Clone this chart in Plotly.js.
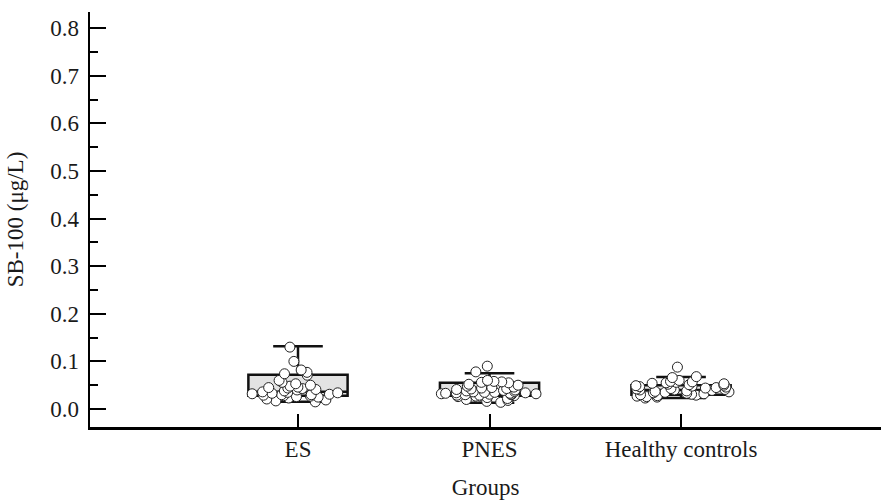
<!DOCTYPE html>
<html>
<head>
<meta charset="utf-8">
<script src="https://cdn.plot.ly/plotly-3.0.1.min.js"></script>
<style>html,body{margin:0;padding:0;background:#fff;}#chart{width:881px;height:500px;}</style>
</head>
<body>
<div id="chart"></div>
<script>
const categories = ['ES', 'PNES', 'Healthy controls'];

// Box statistics (µg/L)
const q1 = [0.028, 0.028, 0.030];
const median = [0.036, 0.033, 0.040];
const q3 = [0.072, 0.055, 0.050];
const lowerWhisker = [0.015, 0.013, 0.023];
const upperWhisker = [0.132, 0.075, 0.067];

// Individual observations
const esValues = [0.130, 0.100, 0.082, 0.077, 0.074, 0.071, 0.060, 0.056, 0.053, 0.050, 0.048, 0.046, 0.045, 0.044, 0.043, 0.041, 0.040, 0.038, 0.036, 0.035, 0.034, 0.033, 0.032, 0.031, 0.030, 0.030, 0.029, 0.028, 0.027, 0.026, 0.025, 0.023, 0.021, 0.019, 0.017, 0.015];
const pnesValues = [0.090, 0.078, 0.060, 0.058, 0.057, 0.056, 0.055, 0.052, 0.050, 0.048, 0.046, 0.045, 0.044, 0.043, 0.042, 0.041, 0.040, 0.039, 0.038, 0.037, 0.036, 0.035, 0.035, 0.034, 0.034, 0.033, 0.033, 0.032, 0.032, 0.031, 0.031, 0.030, 0.030, 0.029, 0.029, 0.028, 0.027, 0.026, 0.025, 0.024, 0.022, 0.020, 0.018, 0.016, 0.014];
const hcValues = [0.088, 0.068, 0.066, 0.060, 0.058, 0.057, 0.056, 0.055, 0.054, 0.053, 0.052, 0.051, 0.050, 0.049, 0.048, 0.047, 0.046, 0.045, 0.044, 0.043, 0.042, 0.041, 0.040, 0.040, 0.039, 0.038, 0.037, 0.036, 0.035, 0.034, 0.033, 0.032, 0.031, 0.030, 0.029, 0.028, 0.027, 0.026, 0.025, 0.023];

const yTickVals = [0, 0.1, 0.2, 0.3, 0.4, 0.5, 0.6, 0.7, 0.8];
const yTickText = ['0.0', '0.1', '0.2', '0.3', '0.4', '0.5', '0.6', '0.7', '0.8'];

const FONT = 'Liberation Serif, Times New Roman, serif';
const FS = 23;

const boxTrace = {
  type: 'box',
  x: categories,
  q1: q1,
  median: median,
  q3: q3,
  lowerfence: lowerWhisker,
  upperfence: upperWhisker,
  boxpoints: false,
  fillcolor: '#e3e3e3',
  line: {color: '#111', width: 2.5},
  whiskerwidth: 0.5,
  showlegend: false,
  hoverinfo: 'skip'
};

const groupValues = [esValues, pnesValues, hcValues];
const pointX = [];
const pointY = [];
groupValues.forEach((vals, i) => {
  vals.forEach(v => { pointX.push(categories[i]); pointY.push(v); });
});

const pointsTrace = {
  type: 'box',
  x: pointX,
  y: pointY,
  boxpoints: 'all',
  jitter: 1,
  pointpos: 0,
  fillcolor: 'rgba(0,0,0,0)',
  line: {color: 'rgba(0,0,0,0)', width: 0},
  marker: {color: '#ffffff', size: 10, line: {color: '#222', width: 1}},
  showlegend: false,
  hoverinfo: 'y'
};

const layout = {
  width: 881,
  height: 500,
  margin: {l: 90, r: 0, t: 12, b: 73},
  paper_bgcolor: '#ffffff',
  plot_bgcolor: '#ffffff',
  font: {family: FONT, size: FS, color: '#1a1a1a'},
  boxmode: 'overlay',
  boxgap: 0.26,
  xaxis: {
    type: 'category',
    range: [-1.086, 3.044],
    showgrid: false,
    zeroline: false,
    showline: true,
    linecolor: '#000',
    linewidth: 2.5,
    ticks: 'inside',
    ticklen: 13,
    tickwidth: 2,
    tickcolor: '#000',
    tickfont: {family: FONT, size: FS, color: '#1a1a1a'},
    title: {text: 'Groups', font: {family: FONT, size: FS, color: '#1a1a1a'}, standoff: 18},
    automargin: false
  },
  yaxis: {
    range: [-0.0378, 0.834],
    tickvals: yTickVals,
    ticktext: yTickText,
    showgrid: false,
    zeroline: false,
    showline: true,
    linecolor: '#000',
    linewidth: 2.5,
    ticks: 'inside',
    ticklen: 16,
    tickwidth: 2,
    tickcolor: '#000',
    ticklabelstandoff: 4,
    minor: {dtick: 0.05, ticks: 'inside', ticklen: 8, tickwidth: 2, tickcolor: '#000', showgrid: false},
    tickfont: {family: FONT, size: FS, color: '#1a1a1a'},
    title: {text: 'SB-100 (μg/L)', font: {family: FONT, size: FS, color: '#1a1a1a'}, standoff: 20},
    automargin: false
  }
};

Plotly.newPlot('chart', [boxTrace, pointsTrace], layout, {displayModeBar: false, staticPlot: true});
</script>
</body>
</html>
